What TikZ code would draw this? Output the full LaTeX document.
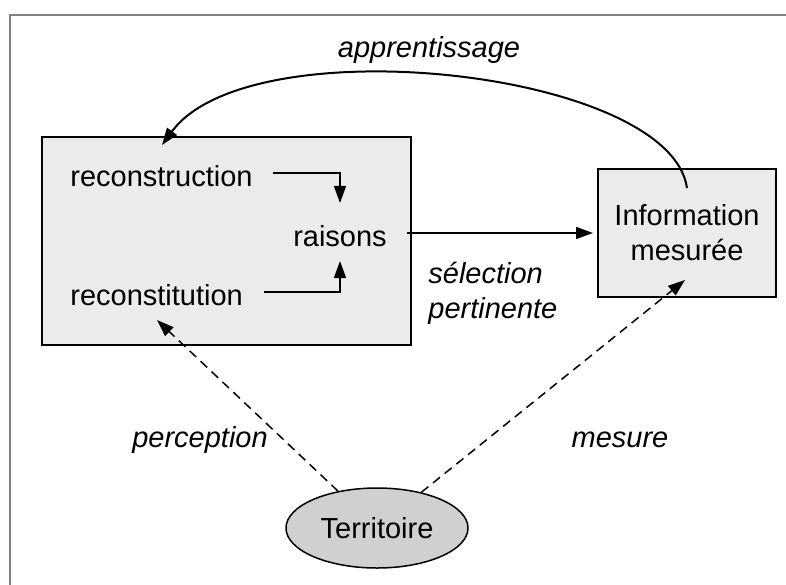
\documentclass[tikz,border=0pt]{standalone}
\usepackage{fontspec}
\setmainfont{Liberation Sans}
\usetikzlibrary{arrows.meta,shapes.geometric,calc}
\definecolor{boxfill}{HTML}{EBEBEB}
\definecolor{terrfill}{HTML}{D0D0D0}
\definecolor{framegray}{HTML}{808080}
\begin{document}
\begin{tikzpicture}[x=0.5pt,y=-0.5pt,
  every node/.style={font=\fontsize{14.5}{17.5}\selectfont},
  txt/.style={inner sep=0pt},
  lbl/.style={inner sep=0pt,font=\fontsize{14.5}{17.5}\selectfont\itshape},
  panel/.style={draw,line width=1pt,fill=boxfill,inner sep=0pt},
  arr/.style={line width=0.75pt,-{Triangle[length=8.5pt,width=6pt]}},
  darr/.style={arr,dash pattern=on 4.5pt off 3pt}]
\useasboundingbox (0,0) rectangle (786,584);
% page frame (top and left edges)
\draw[framegray,line width=1pt] (10,600) -- (10,15) -- (800,15);

% left panel with its three terms
\node[panel,minimum width=184.5pt,minimum height=104pt] (left) at (226.5,241) {};
\node[txt,anchor=west] (recon) at (70,176) {reconstruction};
\node[txt] (rais) at (340,236) {raisons};
\node[txt,anchor=west] (recst) at (70,295) {reconstitution};

% right panel
\node[panel,minimum width=89pt,minimum height=64pt,align=center] (info) at (687,233)
  {Information\\mesurée};

% territory
\node[ellipse,draw,line width=0.75pt,fill=terrfill,minimum width=91pt,minimum height=40pt,inner sep=0pt] (terr) at (377,528) {Territoire};

% inner arrows towards "raisons"
\draw[arr] ($(recon.east)+(20,-3)$) -| ($(rais.north)+(0,-22)$);
\draw[arr] ($(recst.east)+(21,-3)$) -| ($(rais.south)+(0,14)$);
\draw[arr] ($(rais.east)+(20,-3)$) -- ($(info.west |- {$(rais.east)+(0,-3)$})+(-4,0)$);

% learning loop
\coordinate (loopstart) at (687,188);
\coordinate (loopend) at (162,145);
\draw[arr,line width=1pt] (loopstart) .. controls (670,70) and (250,25) .. (loopend);
\node[lbl] (appr) at (429,50) {apprentissage};

% dashed links from the territory
\coordinate (pin) at (157,320);
\coordinate (min) at (685,280);
\draw[darr] (terr) -- (pin);
\draw[darr] (terr) -- (min);

% labels
\node[lbl,anchor=west,align=left] (sel) at (428,293) {sélection\\pertinente};
\node[lbl] (perc) at (200,440) {perception};
\node[lbl] (mes) at (620,440) {mesure};
\end{tikzpicture}
\end{document}
